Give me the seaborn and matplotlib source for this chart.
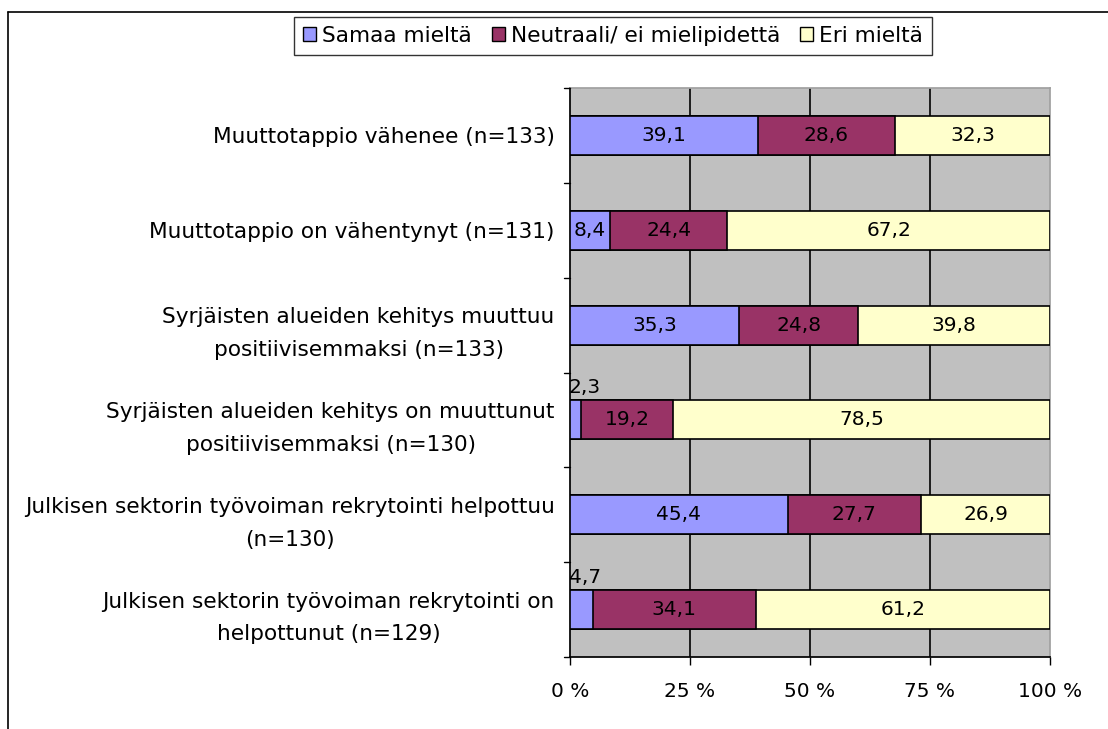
import pandas as pd
import matplotlib.pyplot as plt
import seaborn as sns
from matplotlib.patches import Patch
from matplotlib.lines import Line2D

sns.set_theme(style="white")
plt.rcParams['font.family'] = ['DejaVu Sans']
plt.rcParams['text.color'] = 'black'
plt.rcParams['xtick.color'] = 'black'
plt.rcParams['ytick.color'] = 'black'

categories = [
    "Muuttotappio vähenee (n=133)",
    "Muuttotappio on vähentynyt (n=131)",
    "Syrjäisten alueiden kehitys muuttuu\npositiivisemmaksi (n=133)",
    "Syrjäisten alueiden kehitys on muuttunut\npositiivisemmaksi (n=130)",
    "Julkisen sektorin työvoiman rekrytointi helpottuu\n(n=130)",
    "Julkisen sektorin työvoiman rekrytointi on\nhelpottunut (n=129)",
]
samaa = [39.1, 8.4, 35.3, 2.3, 45.4, 4.7]
neutraali = [28.6, 24.4, 24.8, 19.2, 27.7, 34.1]
eri = [32.3, 67.2, 39.8, 78.5, 26.9, 61.2]
series_names = ["Samaa mieltä", "Neutraali/ ei mielipidettä", "Eri mieltä"]
colors = ["#9999FF", "#993366", "#FFFFCC"]
x_ticks = [0, 25, 50, 75, 100]
x_ticklabels = ["0 %", "25 %", "50 %", "75 %", "100 %"]

FS = 14.5
FS_LAB = 15.6

df = pd.DataFrame({"cat": categories, "s": samaa, "n": neutraali, "e": eri})
df["c1"] = df["s"]
df["c2"] = df["s"] + df["n"]
df["c3"] = df["s"] + df["n"] + df["e"]

fig = plt.figure(figsize=(11.08, 7.29), dpi=100)
ax = fig.add_axes([570 / 1108, 1 - 657 / 729, 480 / 1108, 569 / 729])
ax.set_facecolor("#C0C0C0")

# stacked bars: draw cumulative totals from the widest to the narrowest
for col, color in zip(["c3", "c2", "c1"], colors[::-1]):
    sns.barplot(data=df, x=col, y="cat", orient="h", color=color,
                edgecolor="black", linewidth=1.2, width=0.41, ax=ax,
                saturation=1, zorder=3)

ax.set_xlim(0, 100)
ax.set_ylim(len(categories) - 0.5, -0.5)
ax.set_xticks(x_ticks)
ax.set_xticklabels(x_ticklabels, fontsize=FS)
ax.set_xlabel("")
ax.set_ylabel("")
ax.set_yticks(range(len(categories)))
ax.set_yticklabels(categories, fontsize=FS_LAB, ha="right", multialignment="center",
                   linespacing=1.8)
ax.tick_params(axis="y", length=0, pad=11)
ax.tick_params(axis="x", length=6, width=1, direction="out", color="black", pad=12)
ax.xaxis.set_ticks_position("bottom")

# category boundary ticks on the y axis
for b in [i - 0.5 for i in range(len(categories) + 1)]:
    ax.plot([-1.2, 0], [b, b], color="black", lw=1, clip_on=False, zorder=5)

for v in [25, 50, 75]:
    ax.axvline(v, color="black", lw=1.2, zorder=1)

for sp in ["top", "right"]:
    ax.spines[sp].set_color("#A0A0A0")
ax.spines["left"].set_color("black")
ax.spines["bottom"].set_color("black")

for i in range(len(categories)):
    mids = [df["s"][i] / 2, df["s"][i] + df["n"][i] / 2,
            df["s"][i] + df["n"][i] + df["e"][i] / 2]
    vals = [df["s"][i], df["n"][i], df["e"][i]]
    for m, v in zip(mids, vals):
        txt = f"{v:.1f}".replace(".", ",")
        if v < 5:
            ax.text(-0.3, i - 0.24, txt, ha="left", va="bottom", fontsize=FS,
                    color="black", zorder=6)
        else:
            ax.text(m, i, txt, ha="center", va="center", fontsize=FS,
                    color="black", zorder=6)

handles = [Patch(facecolor=c, edgecolor="black", lw=1) for c in colors]
leg = fig.legend(handles, series_names, loc="center", ncol=3,
                 bbox_to_anchor=(613 / 1108, 1 - 36 / 729), fontsize=FS_LAB,
                 frameon=True, fancybox=False, handlelength=0.6,
                 handleheight=0.6, handletextpad=0.3, columnspacing=0.9,
                 borderpad=0.4, borderaxespad=0)
leg.get_frame().set_edgecolor("black")
leg.get_frame().set_linewidth(1)

# outer chart frame (only top and left visible in crop)
fig.add_artist(Line2D([8 / 1108, 1], [1 - 12 / 729, 1 - 12 / 729], color="black", lw=1.2))
fig.add_artist(Line2D([8 / 1108, 8 / 1108], [0, 1 - 12 / 729], color="black", lw=1.2))

fig.savefig("out.png", dpi=100)
